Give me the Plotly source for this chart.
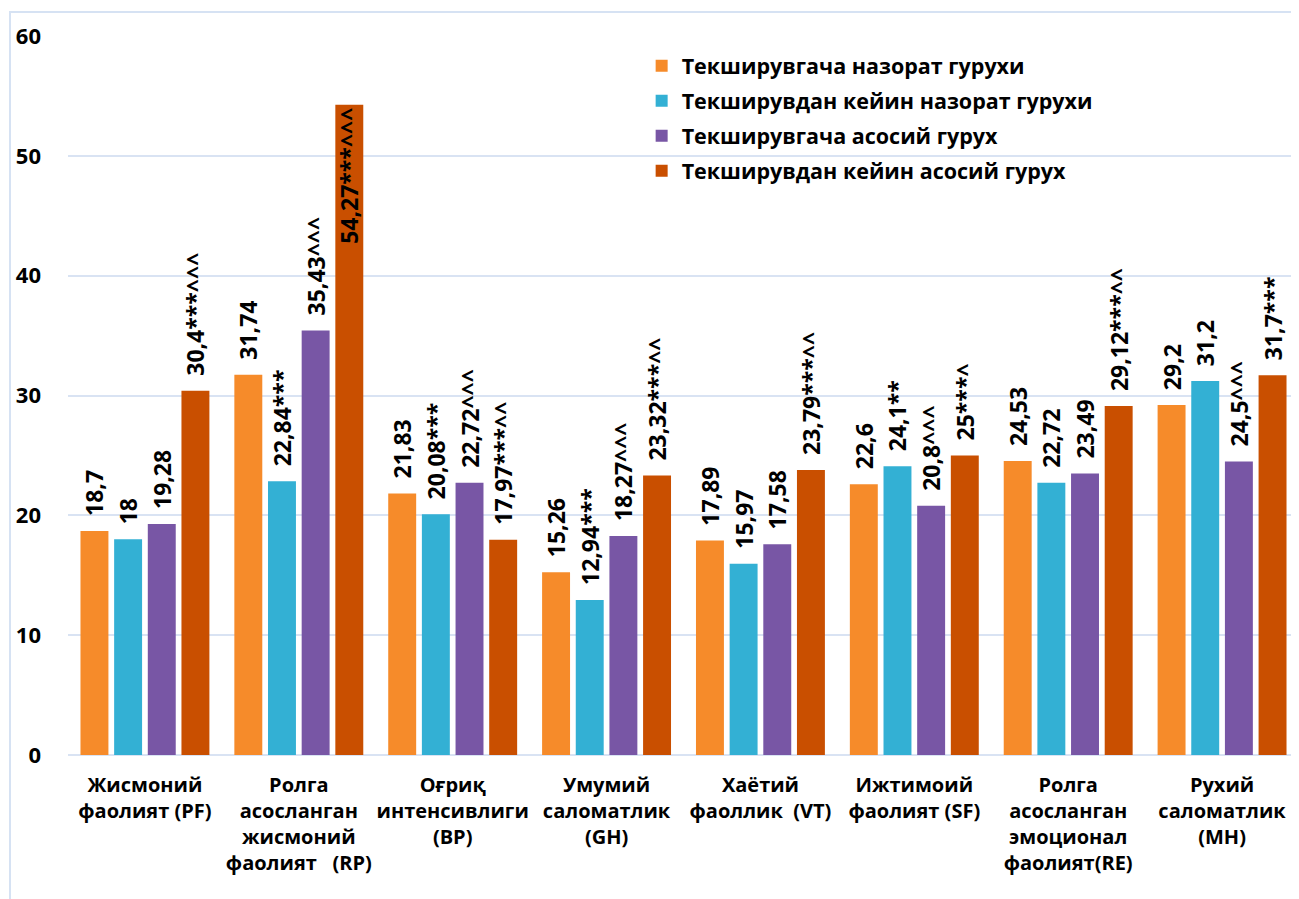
import plotly.graph_objects as go

categories = [
    "Жисмоний<br>фаолият (PF)",
    "Ролга<br>асосланган<br>жисмоний<br>фаолият\u00a0\u00a0\u00a0(RP)",
    "Оғриқ<br>интенсивлиги<br>(BP)",
    "Умумий<br>саломатлик<br>(GH)",
    "Хаётий<br>фаоллик\u00a0\u00a0(VT)",
    "Ижтимоий<br>фаолият (SF)",
    "Ролга<br>асосланган<br>эмоционал<br>фаолият(RE)",
    "Рухий<br>саломатлик<br>(MH)",
]

series_names = [
    "Текширувгача назорат гурухи",
    "Текширувдан кейин назорат гурухи",
    "Текширувгача асосий гурух",
    "Текширувдан кейин асосий гурух",
]

s1_values = [18.7, 31.74, 21.83, 15.26, 17.89, 22.6, 24.53, 29.2]
s1_labels = ["18,7", "31,74", "21,83", "15,26", "17,89", "22,6", "24,53", "29,2"]

s2_values = [18, 22.84, 20.08, 12.94, 15.97, 24.1, 22.72, 31.2]
s2_labels = ["18", "22,84***", "20,08***", "12,94***", "15,97", "24,1**", "22,72", "31,2"]

s3_values = [19.28, 35.43, 22.72, 18.27, 17.58, 20.8, 23.49, 24.5]
s3_labels = ["19,28", "35,43^^^", "22,72^^^", "18,27^^^", "17,58", "20,8^^^", "23,49", "24,5^^^"]

s4_values = [30.4, 54.27, 17.97, 23.32, 23.79, 25, 29.12, 31.7]
s4_labels = ["30,4***^^^", "54,27***^^^", "17,97***^^", "23,32***^^", "23,79***^^", "25***^", "29,12***^^", "31,7***"]

y_ticks = [0, 10, 20, 30, 40, 50, 60]

# styling
colors = ["#F68B2A", "#33B0D4", "#7856A5", "#C94F00"]
s4_text_positions = ["outside", "inside", "outside", "outside", "outside", "outside", "outside", "outside"]
values = [s1_values, s2_values, s3_values, s4_values]
labels = [s1_labels, s2_labels, s3_labels, s4_labels]
positions = [["outside"] * len(categories)] * 3 + [s4_text_positions]

FONT = "'Open Sans', 'Noto Sans', sans-serif"
PAD = "\u00a0\u00a0"

fig = go.Figure()
for i, (name, vals, labs, col, pos) in enumerate(zip(series_names, values, labels, colors, positions)):
    fig.add_trace(go.Bar(
        x=categories, y=vals, name=name, legendgroup=f"g{i}",
        marker=dict(color=col, line=dict(width=0)),
        text=[PAD + t for t in labs], textposition=pos, textangle=-90,
        insidetextanchor="end",
        constraintext="none", cliponaxis=False,
        textfont=dict(family=FONT, size=23, color="#000000", weight="bold"),
        insidetextfont=dict(family=FONT, size=23, color="#000000", weight="bold"),
        outsidetextfont=dict(family=FONT, size=23, color="#000000", weight="bold"),
    ))

fig.update_layout(
    width=1291, height=891,
    margin=dict(l=60, r=0, t=28, b=144),
    paper_bgcolor="white", plot_bgcolor="white",
    barmode="group", bargap=0.125, bargroupgap=0.17,
    font=dict(family=FONT, color="#000000"),
    legend=dict(
        x=0.466, y=0.987, xanchor="left", yanchor="top",
        bgcolor="rgba(0,0,0,0)", borderwidth=0,
        font=dict(family=FONT, size=21.5, color="#000000", weight="bold"),
        traceorder="grouped", itemwidth=30, tracegroupgap=4,
    ),
    xaxis=dict(
        showgrid=False, showline=False, ticks="",
        tickfont=dict(family=FONT, size=20, color="#000000", weight="bold"),
        ticklabelstandoff=16,
    ),
    yaxis=dict(
        range=[0, 60], tickvals=y_ticks,
        showgrid=True, gridcolor="#D9E3F3", gridwidth=2,
        zeroline=True, zerolinecolor="#D9E3F3", zerolinewidth=2,
        showline=False, ticks="",
        tickfont=dict(family=FONT, size=22, color="#000000", weight="bold"),
        ticklabelstandoff=26,
    ),
    shapes=[dict(
        type="rect", xref="paper", yref="paper",
        x0=-0.0471, x1=1.05, y0=-0.3, y1=1.0334,
        line=dict(color="#D6E2F3", width=2), fillcolor="rgba(0,0,0,0)", layer="below",
    )],
)

fig.write_html("out.html")
